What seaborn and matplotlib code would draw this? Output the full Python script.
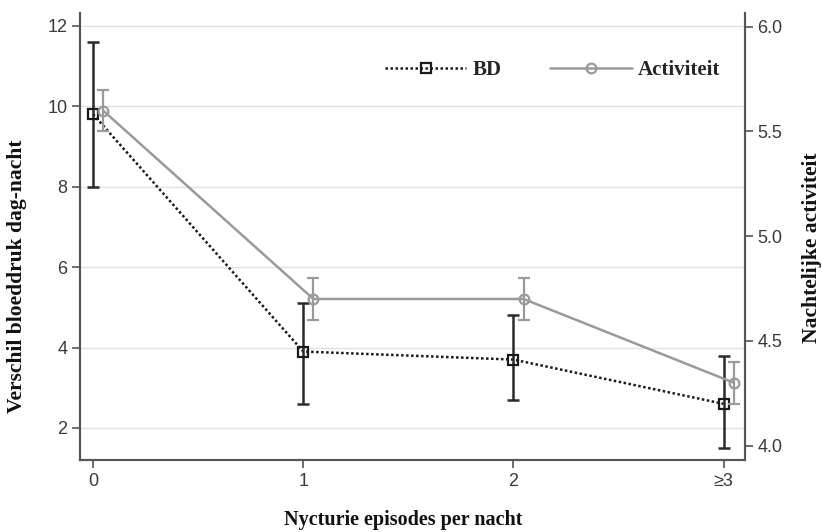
import numpy as np
import pandas as pd
import matplotlib
matplotlib.use("Agg")
import matplotlib.pyplot as plt
import seaborn as sns
from matplotlib.lines import Line2D

categories = ["0", "1", "2", "\u22653"]
bd = [9.8, 3.9, 3.7, 2.6]
bd_low = [8.0, 2.6, 2.7, 1.5]
bd_high = [11.6, 5.1, 4.8, 3.8]
act = [5.6, 4.7, 4.7, 4.3]
act_low = [5.5, 4.6, 4.6, 4.2]
act_high = [5.7, 4.8, 4.8, 4.4]
left_ticks = [2, 4, 6, 8, 10, 12]
right_ticks = [4.0, 4.5, 5.0, 5.5, 6.0]

sns.set_theme(style="white")
plt.rcParams['font.family'] = ['Liberation Sans', 'DejaVu Sans']

serif = ['Liberation Serif', 'DejaVu Serif']
BD_COL = "#1a1a1a"
ACT_COL = "#9a9a9a"
SPINE = "#555555"

fig = plt.figure(figsize=(8.22, 5.32), dpi=100)
ax = fig.add_axes([0.0973, 0.135, 0.8087, 0.841])
ax2 = ax.twinx()

pos = np.arange(len(categories))
dodge = 0.048
df_bd = pd.DataFrame({"x": pos, "y": bd})
df_act = pd.DataFrame({"x": pos + dodge, "y": act})

# grid
for t in left_ticks:
    ax.axhline(t, color="#e2e2e2", lw=1.0, zorder=0)

sns.lineplot(data=df_bd, x="x", y="y", ax=ax, color=BD_COL, lw=1.8,
             linestyle=(0, (1, 1)), zorder=3)
ax.errorbar(pos, bd, yerr=[np.array(bd) - np.array(bd_low), np.array(bd_high) - np.array(bd)],
            fmt="none", ecolor="#2a2a2a", elinewidth=1.8, capsize=4.5, capthick=1.8, zorder=3)
ax.plot(pos, bd, linestyle="none", marker="s", markersize=7, markerfacecolor="none",
        markeredgecolor=BD_COL, markeredgewidth=1.6, zorder=4)

sns.lineplot(data=df_act, x="x", y="y", ax=ax2, color=ACT_COL, lw=1.8, zorder=3)
ax2.errorbar(pos + dodge, act, yerr=[np.array(act) - np.array(act_low), np.array(act_high) - np.array(act)],
             fmt="none", ecolor=ACT_COL, elinewidth=1.6, capsize=4.5, capthick=1.6, zorder=3)
ax2.plot(pos + dodge, act, linestyle="none", marker="o", markersize=7, markerfacecolor="none",
         markeredgecolor=ACT_COL, markeredgewidth=1.6, zorder=4)

ax.set_xlim(-0.062, 3.1)
ax.set_ylim(1.2, 12.32)
ax2.set_ylim(3.93, 6.067)

ax.set_xticks(pos)
ax.set_xticklabels(categories)
ax.set_yticks(left_ticks)
ax.set_yticklabels([str(t) for t in left_ticks])
ax2.set_yticks(right_ticks)
ax2.set_yticklabels([f"{t:.1f}" for t in right_ticks])

for a in (ax, ax2):
    a.tick_params(axis="both", which="both", direction="out", length=6, width=1.2,
                  color=SPINE, labelsize=13, labelcolor="#3a3a3a", pad=3)
    a.spines["top"].set_visible(False)
    for s in ("left", "right", "bottom"):
        a.spines[s].set_color(SPINE)
        a.spines[s].set_linewidth(1.5)
ax.tick_params(left=True, bottom=True)
ax2.tick_params(right=True)

ax.set_xlabel("Nycturie episodes per nacht", family=serif, fontweight="bold", fontsize=14.5,
              color="#111111")
ax.set_ylabel("Verschil bloeddruk dag-nacht", family=serif, fontweight="bold", fontsize=15.5,
              color="#111111")
ax2.set_ylabel("Nachtelijke activiteit", family=serif, fontweight="bold", fontsize=15.5,
               color="#111111", rotation=90)
ax.xaxis.label.set_verticalalignment("center")
ax.yaxis.label.set_verticalalignment("center")
ax2.yaxis.label.set_verticalalignment("center")
ax.xaxis.set_label_coords(0.486, -0.134)
ax.yaxis.set_label_coords(-0.0947, 0.41)
ax2.yaxis.set_label_coords(1.1008, 0.474)

handles = [
    Line2D([], [], color=BD_COL, lw=1.8, linestyle=(0, (1, 1)), marker="s", markersize=7,
           markerfacecolor="none", markeredgecolor=BD_COL, markeredgewidth=1.6),
    Line2D([], [], color=ACT_COL, lw=1.8, marker="o", markersize=7,
           markerfacecolor="none", markeredgecolor=ACT_COL, markeredgewidth=1.6),
]
leg = fig.legend(handles, ["BD", "Activiteit"], loc="center left",
                 bbox_to_anchor=(385 / 822, 1 - 70 / 532), ncol=2, frameon=False,
                 borderpad=0, borderaxespad=0,
                 handlelength=3.9, handletextpad=0.3, columnspacing=2.35,
                 prop={"family": serif, "weight": "bold", "size": 15})

fig.savefig("out.png", dpi=100)
